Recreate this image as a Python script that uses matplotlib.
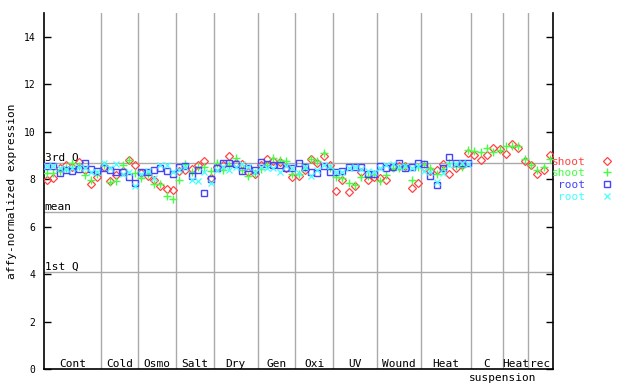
import numpy as np
import matplotlib
matplotlib.use("Agg")
from matplotlib import pyplot as plt
from matplotlib.lines import Line2D

# groups of samples (label, number of samples)
groups = ["Cont", "Cold", "Osmo", "Salt", "Dry", "Gen", "Oxi", "UV", "Wound", "Heat", "C", "Heat", "rec"]
group_sizes = [9, 6, 6, 6, 7, 6, 6, 7, 7, 8, 5, 4, 4]
sub_label = "suspension"

nan = np.nan
shoot_red = [7.98, 8.05, 8.45, 8.61, 8.50, 8.74, 8.40, 7.79, 8.10,
             8.50, 7.93, 8.18, 8.36, 8.80, 8.61,
             8.25, 8.13, 7.95, 7.70, 7.58, 7.55,
             8.36, 8.40, 8.42, 8.60, 8.76, 8.03,
             8.50, 8.61, 8.97, 8.70, 8.62, 8.32, 8.20,
             8.60, 8.86, 8.78, 8.74, 8.48, 8.08,
             8.14, 8.37, 8.86, 8.68, 8.98, 8.58,
             7.52, 7.97, 7.47, 7.70, 8.30, 7.95, 8.08,
             8.05, 7.98, 8.50, 8.55, 8.56, 7.64, 7.85,
             8.50, 8.34, 8.38, 8.62, 8.22, 8.45, 8.60, 9.12,
             9.02, 8.81, 9.02, 9.32, 9.28,
             9.04, 9.46, 9.32, 8.76,
             8.59, 8.23, 8.39, 9.03]
shoot_green = [8.26, 8.26, 8.35, 8.45, 8.68, 8.57, 8.19, 7.98, 8.22,
               8.60, 7.87, 7.92, 8.60, 8.82, 8.25,
               8.06, 8.20, 7.81, 7.80, 7.27, 7.16,
               7.98, 8.65, 8.30, 8.51, 8.50, 8.36,
               8.69, 8.37, 8.60, 8.90, 8.40, 8.12, 8.25,
               8.43, 8.60, 8.90, 8.82, 8.76, 8.23,
               8.20, 8.45, 8.85, 8.76, 9.11, 8.45,
               8.09, 8.06, 7.85, 7.75, 8.10, 8.15, 8.20,
               7.92, 8.18, 8.45, 8.48, 8.55, 7.97, 8.50,
               8.62, 8.48, 8.20, 8.42, 8.70, 8.55, 8.53, 9.23,
               9.18, 9.15, 9.32, 9.15, 9.22,
               9.40, 9.38, 9.41, 8.85,
               8.61, 8.40, 8.53, 8.85]
root_blue = [8.57, 8.57, 8.26, 8.38, 8.35, 8.43, 8.68, 8.43, 8.35,
             8.46, 8.40, 8.30, 8.30, 8.08, 7.85,
             8.30, 8.28, 8.39, 8.48, 8.34, 8.22,
             8.52, 8.55, 8.14, 8.40, 7.42, 8.00,
             8.47, 8.66, 8.70, 8.62, 8.33, 8.49, 8.37,
             8.72, 8.62, 8.60, 8.61, 8.47, 8.49,
             8.69, 8.51, 8.30, 8.27, 8.55, 8.32,
             8.31, 8.35, 8.51, 8.50, 8.51, 8.23, 8.20,
             8.56, 8.46, 8.50, 8.68, 8.46, 8.51, 8.68,
             8.65, 8.14, 7.76, 8.48, 8.94, 8.69, 8.70, 8.69,
             nan, nan, nan, nan, nan,
             nan, nan, nan, nan,
             nan, nan, nan, nan]
root_cyan = [8.57, 8.57, 8.47, 8.42, 8.45, 8.50, 8.45, 8.28, 8.30,
             8.68, 8.45, 8.63, 8.20, 8.30, 7.71,
             8.20, 8.35, 8.06, 8.59, 8.61, 8.30,
             8.40, 8.50, 7.95, 7.91, 8.30, 7.85,
             8.40, 8.50, 8.37, 8.50, 8.62, 8.50, 8.30,
             8.50, 8.47, 8.45, 8.30, 8.55, 8.48,
             8.26, 8.50, 8.12, 8.40, 8.60, 8.55,
             8.30, 8.30, 8.45, 8.50, 8.42, 8.36, 8.28,
             8.45, 8.60, 8.63, 8.50, 8.55, 8.45, 8.55,
             8.35, 8.28, 7.90, 8.25, 8.60, 8.62, 8.70, 8.65,
             nan, nan, nan, nan, nan,
             nan, nan, nan, nan,
             nan, nan, nan, nan]

# reference lines
q3 = 8.68
mean = 6.61
q1 = 4.08

mono = "DejaVu Sans Mono"
gray = "#aaaaaa"
red = "#ff4444"
green = "#44ff44"
blue = "#4444ff"
cyan = "#44ffff"

n = sum(group_sizes)
x = np.arange(n)

fig = plt.figure(figsize=(6.4, 3.84), dpi=100)
ax = fig.add_axes([44 / 640, 15 / 384, 509 / 640, 356 / 384])

for val, lab in [(q3, "3rd Q"), (mean, "mean"), (q1, "1st Q")]:
    ax.axhline(val, color=gray, lw=1, zorder=1)
    ax.text(-0.4, val + 0.02, lab, family=mono, fontsize=8, va="bottom", ha="left")

bounds = np.cumsum(group_sizes)
starts = bounds - np.array(group_sizes)
for b in bounds[:-1]:
    ax.axvline(b - 0.5, color=gray, lw=1, zorder=1)

for g, s, e in zip(groups, starts, bounds):
    ax.text((s + e - 1) / 2, 0.09, g, family=mono, fontsize=8, ha="center", va="baseline")
ax.text(starts[10] - 0.9, -0.52, sub_label, family=mono, fontsize=8, ha="left", va="baseline",
        clip_on=False)

ax.plot(x, shoot_red, ls="none", marker="D", ms=3.6, mfc="none", mec=red, mew=0.9, zorder=3)
ax.plot(x, shoot_green, ls="none", marker="+", ms=6, mec=green, mew=1.0, zorder=3)
ax.plot(x, root_blue, ls="none", marker="s", ms=4.6, mfc="none", mec=blue, mew=1.0, zorder=4)
ax.plot(x, root_cyan, ls="none", marker="x", ms=4.2, mec=cyan, mew=0.9, zorder=4)

ax.set_xlim(-0.5, n - 0.5)
ax.set_ylim(0, 15)
ax.set_yticks(range(0, 15, 2))
ax.set_xticks([])
ax.tick_params(axis="y", direction="in", length=5, width=1, right=True, pad=6, labelsize=7)
for t in ax.get_yticklabels():
    t.set_family(mono)
ax.spines["top"].set_visible(False)
for sp in ["left", "right", "bottom"]:
    ax.spines[sp].set_linewidth(1.2)
ax.set_ylabel("affy-normalized expression", family=mono, fontsize=8, labelpad=5)

handles = [
    Line2D([], [], ls="none", marker="D", ms=3.6, mfc="none", mec=red, mew=0.9),
    Line2D([], [], ls="none", marker="+", ms=6, mec=green, mew=1.0),
    Line2D([], [], ls="none", marker="s", ms=4.6, mfc="none", mec=blue, mew=1.0),
    Line2D([], [], ls="none", marker="x", ms=4.2, mec=cyan, mew=0.9),
]
fig.legend(handles, ["shoot", "shoot", "root", "root"], loc="upper left",
           bbox_to_anchor=(546 / 640, 1 - 151 / 384), frameon=False, markerfirst=False,
           labelcolor=[red, green, blue, cyan], prop={"family": mono, "size": 8},
           borderpad=0, labelspacing=0.15, handlelength=1.5, handletextpad=1.2)

fig.savefig("out.png", dpi=100, facecolor="white")
